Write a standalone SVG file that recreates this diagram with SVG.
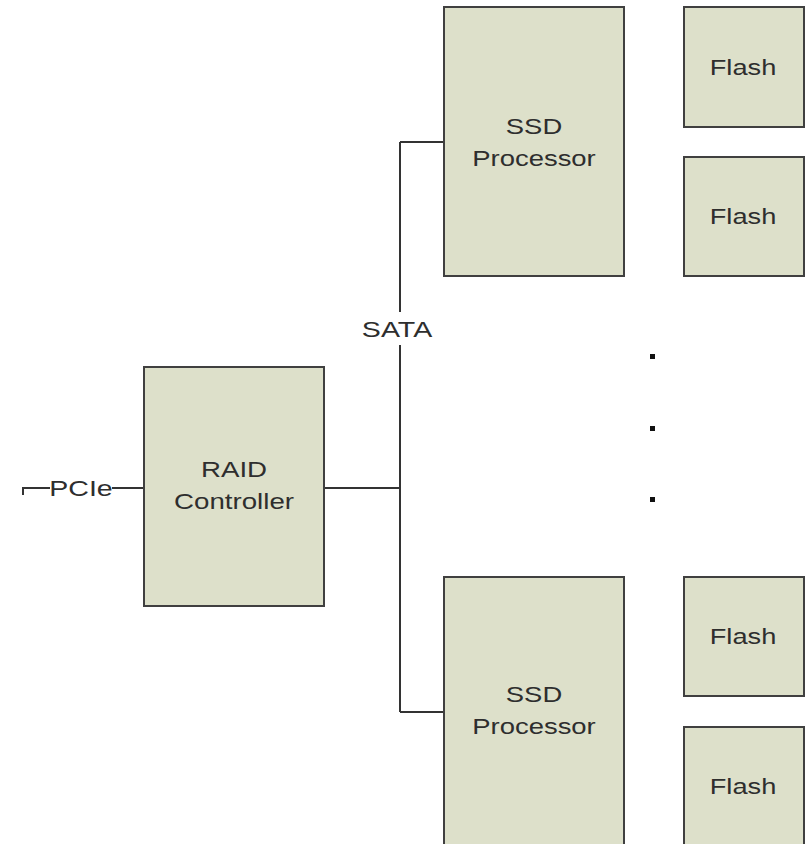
<svg xmlns="http://www.w3.org/2000/svg" width="806" height="844" viewBox="0 0 806 844">
<style>
.box{fill:#dde0ca;stroke:#404040;stroke-width:2}
.t{font-family:"Liberation Sans",Arial,sans-serif;font-size:22.5px;fill:#2e2e2e;text-anchor:middle}
.c{fill:none;stroke:#333;stroke-width:2}
</style>
<rect width="806" height="844" fill="#fff"/>
<g id="connectors">
<path class="c" d="M23,495 V488 H50 M112,488 H144"/>
<path class="c" d="M324,488 H400 M400,142 V312 M400,345 V712 M400,142 H444 M400,712 H444"/>
</g>
<text class="t" transform="translate(81 496) scale(1.27 1)">PCIe</text>
<text class="t" transform="translate(397 337) scale(1.27 1)">SATA</text>
<g id="raid"><rect class="box" x="144" y="367" width="180" height="239"/><text class="t" transform="translate(234 477) scale(1.23 1)">RAID</text><text class="t" transform="translate(234 509) scale(1.23 1)">Controller</text></g>
<g id="ssd1"><rect class="box" x="444" y="7" width="180" height="269"/><text class="t" transform="translate(534 134) scale(1.22 1)">SSD</text><text class="t" transform="translate(534 166) scale(1.22 1)">Processor</text></g>
<g id="ssd2"><rect class="box" x="444" y="577" width="180" height="280"/><text class="t" transform="translate(534 702) scale(1.22 1)">SSD</text><text class="t" transform="translate(534 734) scale(1.22 1)">Processor</text></g>
<g id="flash1"><rect class="box" x="684" y="7" width="120" height="120"/><text class="t" transform="translate(743 75) scale(1.21 1)">Flash</text></g>
<g id="flash2"><rect class="box" x="684" y="157" width="120" height="119"/><text class="t" transform="translate(743 224) scale(1.21 1)">Flash</text></g>
<g id="flash3"><rect class="box" x="684" y="577" width="120" height="119"/><text class="t" transform="translate(743 644) scale(1.21 1)">Flash</text></g>
<g id="flash4"><rect class="box" x="684" y="727" width="120" height="130"/><text class="t" transform="translate(743 794) scale(1.21 1)">Flash</text></g>
<g id="dots" fill="#111"><rect x="650" y="354" width="5" height="5"/><rect x="650" y="426" width="5" height="5"/><rect x="650" y="497" width="5" height="5"/></g>
</svg>
